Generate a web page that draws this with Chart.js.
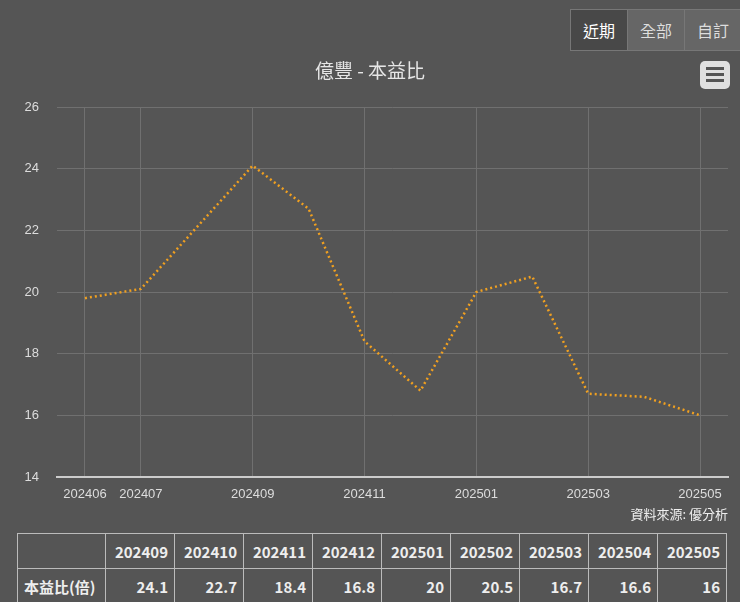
<!DOCTYPE html>
<html><head><meta charset="utf-8">
<script src="https://cdn.jsdelivr.net/npm/chart.js@4/dist/chart.umd.min.js"></script>
<style>
html,body{margin:0;padding:0;background:#555555;width:740px;height:602px;overflow:hidden;font-family:"Noto Sans CJK TC","Noto Sans",sans-serif;color:#e8e8e8}
#wrap{position:relative;width:740px;height:602px}
canvas{position:absolute;left:0;top:0}
#title{position:absolute;top:56px;left:0;width:740px;text-align:center;font-size:19px;color:#e6e6e6}
#btns{position:absolute;top:9px;left:570px;display:flex;border:1px solid #777}
#btns div{width:56px;height:40px;line-height:40px;text-align:center;font-size:16px;background:#666;color:#ddd;border-left:1px solid #777}
#btns div.on{background:#484848;color:#fff;border-left:none}
#menu{position:absolute;left:700px;top:61px;width:30px;height:28px;background:#e0e0e0;border-radius:5px}
#menu span{position:absolute;left:6px;width:18px;height:3px;background:#555}
#src{position:absolute;top:504px;right:12px;font-size:13px;color:#eee}
table{position:absolute;left:17px;top:533px;border-collapse:collapse;font-size:15px;color:#eee}
td{border:1px solid #bbb;height:34px;padding:0 6px;text-align:right}
</style></head><body>
<div id="wrap">
<canvas id="c" width="740" height="505"></canvas>
<div id="title">億豐 - 本益比</div>
<div id="btns"><div class="on">近期</div><div>全部</div><div>自訂</div></div>
<div id="menu"><span style="top:6px"></span><span style="top:12px"></span><span style="top:18px"></span></div>
<div id="src">資料來源: 優分析</div>
<table id="tbl"></table>
</div>
<script>
const months=['202406','202407','202408','202409','202410','202411','202412','202501','202502','202503','202504','202505'];
const pe=[19.8,20.1,22.1,24.1,22.7,18.4,16.8,20,20.5,16.7,16.6,16];
const shownTicks=['202406','202407','202409','202411','202501','202503','202505'];
const tableMonths=months.slice(3);
const tableVals=pe.slice(3);
const tableLabel='本益比(倍)';

let h='<tr><td style="width:75px"></td>'+tableMonths.map(m=>'<td style="width:56px;font-weight:bold">'+m+'</td>').join('')+'</tr>';
h+='<tr><td style="text-align:left;font-weight:bold">'+tableLabel+'</td>'+tableVals.map(v=>'<td style="font-weight:bold">'+v+'</td>').join('')+'</tr>';
document.getElementById('tbl').innerHTML=h;

new Chart(document.getElementById('c'),{
 type:'line',
 data:{labels:months,datasets:[{data:pe,borderColor:'#f0a020',borderWidth:2.5,borderDash:[2,3],pointRadius:0,tension:0,fill:false}]},
 options:{responsive:false,animation:false,
  layout:{padding:{top:107,right:12,left:0,bottom:0}},
  plugins:{legend:{display:false},tooltip:{enabled:false}},
  scales:{
   x:{offset:true,grid:{offset:false,drawTicks:false,color:c=>shownTicks.includes(months[c.index])?'#707070':'transparent'},
      border:{color:'#cccccc',width:2},
      ticks:{autoSkip:false,maxRotation:0,color:'#dddddd',font:{size:13},padding:10,callback:(v,i)=>shownTicks.includes(months[i])?months[i]:''},
      afterFit:s=>{s.height=28}},
   y:{min:14,max:26,grid:{color:'#707070',drawTicks:false},border:{display:false},
      ticks:{stepSize:2,color:'#dddddd',font:{size:13},padding:18},
      afterFit:s=>{s.width=57}}
  }}
});
</script>
</body></html>
